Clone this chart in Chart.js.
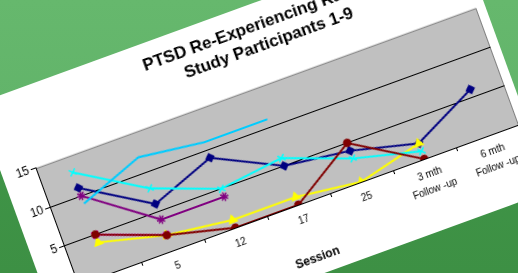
<!DOCTYPE html>
<html>
<head>
<meta charset="utf-8">
<script src="https://cdn.jsdelivr.net/npm/chart.js@4.4.1/dist/chart.umd.min.js"></script>
<style>
  html, body { margin: 0; padding: 0; }
  body {
    width: 518px; height: 273px; overflow: hidden; position: relative;
    background: linear-gradient(to bottom, #66b86d 0%, #62b46a 38%, #3f9447 58%, #3d9044 100%);
  }
  #paper {
    position: absolute; left: -24.46px; top: 103.99px;
    width: 512px; height: 278px; background: #fff; overflow: hidden;
    transform-origin: 0 0; transform: rotate(-20deg);
  }
  canvas { display: block; }
</style>
</head>
<body>
<div id="paper"><canvas id="chart" width="512" height="278"></canvas></div>
<script>
const titleLines = ['PTSD Re-Experiencing Ratings', 'Study Participants 1-9'];
const sessions = ['1', '5', '12', '17', '25', ['3 mth', 'Follow -up'], ['6 mth', 'Follow -up']];

const participant1 = [11, 6, 9, 5, 4, 2, 6];
const participant2 = [5, 2, null, null, null, null, null];
const participant3 = [4, 2, 1, 1, 0, 2, null];
const participant4 = [13, 8, 5, 6, 3, 1, null];
const participant5 = [10, 4, 4, null, null, null, null];
const participant6 = [5, 2, 0, 0, 5, 0, null];
const participant9 = [9, 12, 11, 11, null, null, null];

const fontFamily = '"Liberation Sans", Arial, sans-serif';
Chart.defaults.font.family = fontFamily;

// gray plot area + title (title centred where Excel put it, not on the plot)
const excelLook = {
    id: 'excelLook',
    beforeDraw(chart) {
        const { ctx, chartArea: a } = chart;
        ctx.save();
        ctx.fillStyle = '#c0c0c0';
        ctx.fillRect(a.left, a.top, a.right - a.left, a.bottom - a.top);
        ctx.strokeStyle = '#808080';
        ctx.lineWidth = 1;
        ctx.beginPath();
        ctx.moveTo(a.left, a.top + 0.5);
        ctx.lineTo(a.right - 0.5, a.top + 0.5);
        ctx.lineTo(a.right - 0.5, a.bottom);
        ctx.stroke();
        ctx.restore();
    },
    afterDraw(chart) {
        const { ctx, chartArea: a } = chart;
        ctx.save();
        ctx.fillStyle = '#000';
        ctx.font = 'bold 17px ' + fontFamily;
        ctx.textAlign = 'center';
        ctx.textBaseline = 'middle';
        titleLines.forEach((line, i) => ctx.fillText(line, a.left + 262, 22 + i * 21));
        ctx.restore();
    }
};

function series(label, data, color, style, radius) {
    return {
        label: label,
        data: data,
        borderColor: color,
        backgroundColor: color,
        borderWidth: 2,
        pointStyle: style,
        pointRadius: radius,
        pointBorderWidth: 1.5,
        pointBackgroundColor: color,
        pointBorderColor: color,
        tension: 0,
        spanGaps: false
    };
}

const datasets = [
    Object.assign(series('Participant 1', participant1, '#000080', 'rectRot', 4), { order: 9 }),
    Object.assign(series('Participant 2', participant2, '#ff00ff', 'rect', 4), { order: 8 }),
    Object.assign(series('Participant 3', participant3, '#ffff00', 'triangle', 4.5), { order: 7 }),
    Object.assign(series('Participant 4', participant4, '#00ffff', 'crossRot', 4.5), { order: 6 }),
    Object.assign(series('Participant 5', participant5, '#800080', 'star', 4.5), { order: 5 }),
    Object.assign(series('Participant 6', participant6, '#800000', 'circle', 3.5), { order: 4 }),
    Object.assign(series('Participant 9', participant9, '#00ccff', 'circle', 0), { order: 1 })
];

new Chart(document.getElementById('chart').getContext('2d'), {
    type: 'line',
    data: { labels: sessions, datasets: datasets },
    options: {
        responsive: false,
        animation: false,
        layout: { padding: { top: 80.8, right: 9, left: 0, bottom: 0 } },
        plugins: { legend: { display: false }, tooltip: { enabled: false }, title: { display: false } },
        scales: {
            x: {
                offset: true,
                grid: { offset: true, drawOnChartArea: false, color: '#000', tickColor: '#000', tickLength: 4 },
                border: { color: '#000', width: 1 },
                ticks: { color: '#000', font: { size: 10, lineHeight: 1.6 }, padding: 4, maxRotation: 0, autoSkip: false },
                title: { display: true, text: 'Session', color: '#000', font: { size: 12, weight: 'bold' }, padding: { top: 0, bottom: 9 } },
                afterFit(s) { s.height = 73; }
            },
            y: {
                min: 0,
                max: 15,
                ticks: { stepSize: 5, color: '#000', font: { size: 12 }, padding: 2 },
                grid: {
                    color: ctx => (ctx.tick && (ctx.tick.value === 5 || ctx.tick.value === 10)) ? '#000' : 'rgba(0,0,0,0)',
                    tickColor: '#000',
                    tickLength: 5
                },
                border: { color: '#000', width: 1 },
                afterFit(s) { s.width = 34; }
            }
        }
    },
    plugins: [excelLook]
});
</script>
</body>
</html>
